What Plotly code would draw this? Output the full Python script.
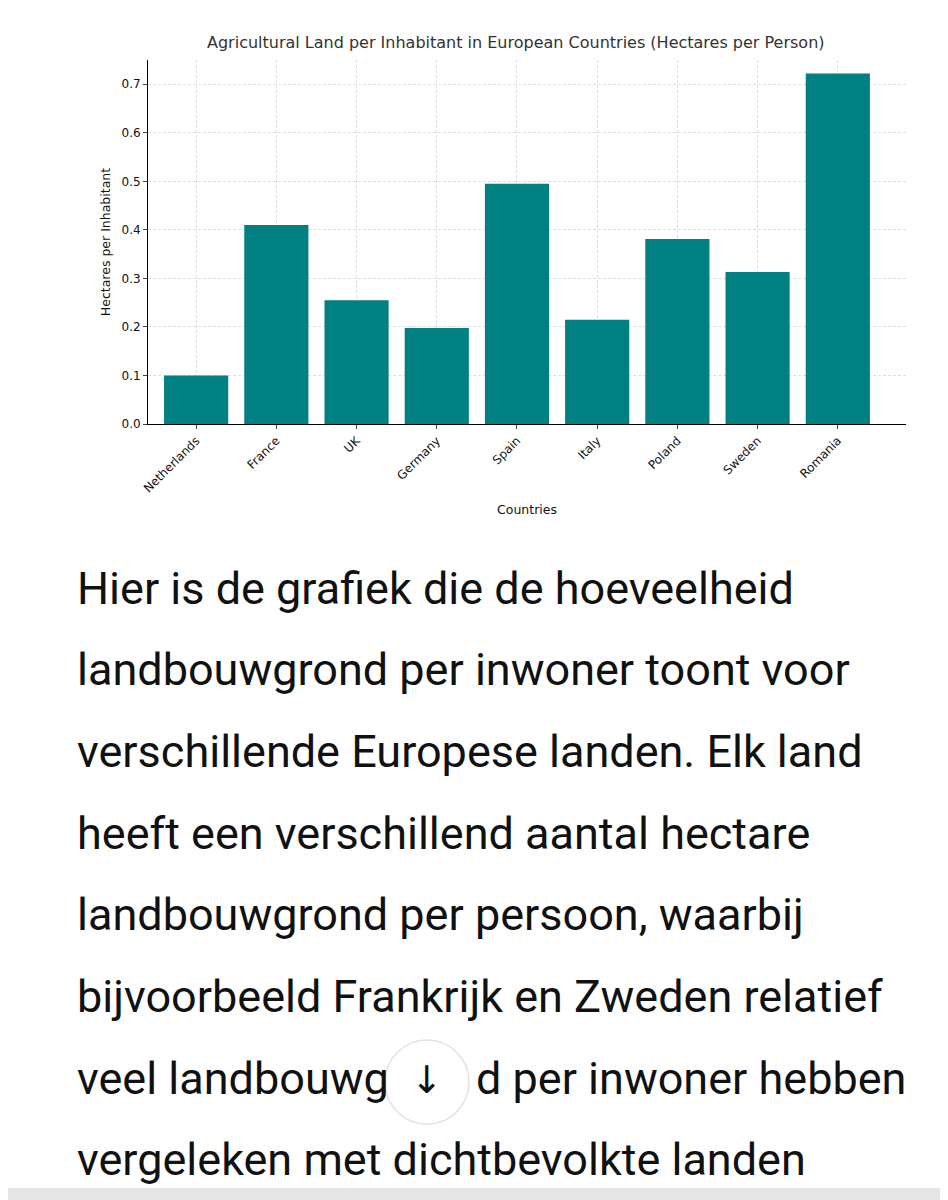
import plotly.graph_objects as go

countries = ["Netherlands", "France", "UK", "Germany", "Spain", "Italy", "Poland", "Sweden", "Romania"]
hectares = [0.10, 0.41, 0.255, 0.198, 0.495, 0.215, 0.381, 0.313, 0.722]
text_lines = [
    "Hier is de grafiek die de hoeveelheid",
    "landbouwgrond per inwoner toont voor",
    "verschillende Europese landen. Elk land",
    "heeft een verschillend aantal hectare",
    "landbouwgrond per persoon, waarbij",
    "bijvoorbeeld Frankrijk en Zweden relatief",
    None,
    "vergeleken met dichtbevolkte landen",
]
line7_left = "veel landbouwg"
line7_right = "d per inwoner hebben"

OFF = 8  # page body margin
W, H = 948, 1200
L, R, T, B = 148 - OFF, 906 - OFF, 60 - OFF, 424 - OFF
def px(x): return (x - OFF - L) / (R - L)
def py(y): return (B - (y - OFF)) / (B - T)

fig = go.Figure(go.Bar(x=list(range(len(countries))), y=hectares, marker_color="#008080",
                       width=0.8, marker_line_width=0))

tf = dict(size=45, color="#111", family="Roboto")
anns = [dict(text="Agricultural Land per Inhabitant in European Countries (Hectares per Person)",
             x=px(516), y=py(43), xref="paper", yref="paper", showarrow=False,
             font=dict(size=16, color="#333"), xanchor="center", yanchor="middle")]
for i, line in enumerate(text_lines):
    if line is None:
        continue
    anns.append(dict(text=line, x=px(75), y=py(588 + i * 81.7), xref="paper", yref="paper",
                     showarrow=False, xanchor="left", yanchor="middle", font=tf))
anns.append(dict(text=line7_left, x=px(75), y=py(588 + 6 * 81.7), xref="paper", yref="paper",
                 showarrow=False, xanchor="left", yanchor="middle", font=tf))
anns.append(dict(text=line7_right, x=px(908), y=py(588 + 6 * 81.7), xref="paper", yref="paper",
                 showarrow=False, xanchor="right", yanchor="middle", font=tf))
anns.append(dict(text="↓", x=px(427), y=py(1080), xref="paper", yref="paper", showarrow=False,
                 font=dict(size=38, color="#111", family="DejaVu Sans"), xanchor="center", yanchor="middle"))

shapes = [
    dict(type="circle", xref="paper", yref="paper", x0=px(385), x1=px(469), y0=py(1124), y1=py(1040),
         fillcolor="white", line=dict(color="#e2e2e2", width=1.5), layer="above"),
    dict(type="rect", xref="paper", yref="paper", x0=px(0), x1=px(960), y0=py(1215), y1=py(1188),
         fillcolor="#e6e6e6", line=dict(width=0)),
]

grid = dict(showgrid=True, griddash="3px,2px", gridcolor="#dedede", gridwidth=0.8)
fig.update_layout(
    width=W, height=H, margin=dict(l=L, r=W - R, t=T, b=H - B),
    paper_bgcolor="white", plot_bgcolor="white", showlegend=False,
    font=dict(family="DejaVu Sans", size=12, color="#111"),
    annotations=anns, shapes=shapes, bargap=0.2,
    xaxis=dict(tickmode="array", tickvals=list(range(len(countries))), ticktext=countries,
               tickangle=-45, range=[-0.6, 8.85], showline=True, linecolor="black",
               ticks="outside", ticklen=4, zeroline=False,
               title=dict(text="Countries", font=dict(size=12.5), standoff=10), **grid),
    yaxis=dict(range=[0, 0.75], dtick=0.1, tickformat=".1f", showline=True, linecolor="black",
               ticks="outside", ticklen=4, zeroline=False,
               title=dict(text="Hectares per Inhabitant", font=dict(size=12.5), standoff=8), **grid),
)
fig.write_html("out.html")
